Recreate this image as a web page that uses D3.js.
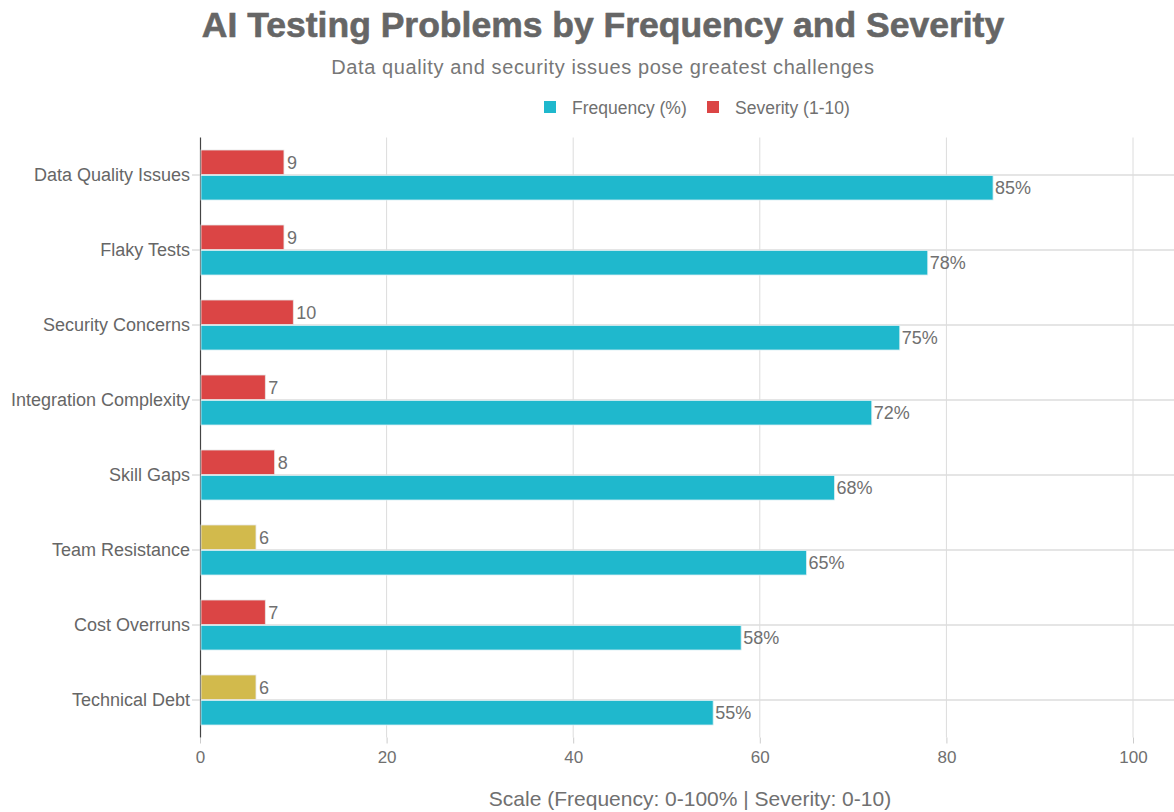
<!DOCTYPE html>
<html><head><meta charset="utf-8">
<script src="https://cdn.jsdelivr.net/npm/d3@7"></script>
<style>html,body{margin:0;padding:0;background:#fff;}svg{display:block;}</style>
</head><body>
<svg id="chart" width="1174" height="812"></svg>
<script>
const categories = ["Data Quality Issues","Flaky Tests","Security Concerns","Integration Complexity","Skill Gaps","Team Resistance","Cost Overruns","Technical Debt"];
const frequency = [85,78,75,72,68,65,58,55];
const severity = [9,9,10,7,8,6,7,6];
const xTicks = [0,20,40,60,80,100];
const seriesNames = ["Frequency (%)","Severity (1-10)"];
const colFreq = "#1FB8CD", colSevHigh = "#DB4545", colSevMed = "#D2BA4C";

const svg = d3.select("#chart");
const font = "'Liberation Sans', Arial, sans-serif";
const m = {l:200, r:1174, t:137.5, b:737.5};
const x = d3.scaleLinear().domain([0,100]).range([m.l, m.l + 933]);
const y = d3.scaleBand().domain(categories).range([m.t, m.b]);
const bw = y.bandwidth();
const inner = d3.scaleBand().domain(["sev","freq"]).range([bw/6, bw*5/6]).paddingInner(0.04);

// gridlines vertical
svg.append("g").selectAll("line").data(xTicks.slice(1)).join("line")
  .attr("x1", d=>x(d)).attr("x2", d=>x(d)).attr("y1", m.t).attr("y2", m.b)
  .attr("stroke","#dcdcdc").attr("stroke-width",1);
// horizontal gridlines at category centers
svg.append("g").selectAll("line").data(categories).join("line")
  .attr("x1", m.l).attr("x2", m.r)
  .attr("y1", d=>y(d)+bw/2).attr("y2", d=>y(d)+bw/2)
  .attr("stroke","#dcdcdc").attr("stroke-width",1.5);

// x axis
const xAxis = svg.append("g").attr("transform",`translate(0,${m.b})`)
  .call(d3.axisBottom(x).tickValues(xTicks).tickSize(6).tickPadding(7));
xAxis.select(".domain").remove();
xAxis.selectAll("line").attr("stroke","#cccccc");
xAxis.selectAll("text").attr("font-family",font).attr("font-size",17).attr("fill","#707070");

// y axis
const yAxis = svg.append("g").attr("transform",`translate(${m.l},0)`)
  .call(d3.axisLeft(y).tickSize(8).tickPadding(2));
yAxis.select(".domain").attr("stroke","#444").attr("stroke-width",1.2).attr("d",`M0.5,${m.t}V${m.b}`);
yAxis.selectAll("line").attr("stroke","#cccccc");
yAxis.selectAll("text").attr("font-family",font).attr("font-size",18).attr("fill","#666");

const rows = categories.map((c,i)=>({c, f:frequency[i], s:severity[i]}));

// severity bars
svg.append("g").selectAll("rect").data(rows).join("rect")
  .attr("x", x(0)+1).attr("y", d=>y(d.c)+inner("sev"))
  .attr("width", d=>x(d.s)-x(0)-1).attr("height", inner.bandwidth())
  .attr("fill", d=> d.s<=6 ? colSevMed : colSevHigh)
  .attr("stroke","#e6e6e6").attr("stroke-width",0.8);
// frequency bars
svg.append("g").selectAll("rect").data(rows).join("rect")
  .attr("x", x(0)+1).attr("y", d=>y(d.c)+inner("freq"))
  .attr("width", d=>x(d.f)-x(0)-1).attr("height", inner.bandwidth())
  .attr("fill", colFreq)
  .attr("stroke","#d8eef2").attr("stroke-width",0.8);

// labels
svg.append("g").selectAll("text").data(rows).join("text")
  .attr("x", d=>x(d.s)+3).attr("y", d=>y(d.c)+inner("sev")+inner.bandwidth()/2)
  .attr("dy","0.35em").attr("font-family",font).attr("font-size",18).attr("fill","#707070")
  .text(d=>d.s);
svg.append("g").selectAll("text").data(rows).join("text")
  .attr("x", d=>x(d.f)+2).attr("y", d=>y(d.c)+inner("freq")+inner.bandwidth()/2)
  .attr("dy","0.35em").attr("font-family",font).attr("font-size",18).attr("fill","#707070")
  .text(d=>d.f+"%");

// title
svg.append("text").attr("x",603).attr("y",37).attr("text-anchor","middle")
  .attr("font-family",font).attr("font-weight","bold").attr("font-size",35.5).attr("fill","#666")
  .attr("stroke","#666").attr("stroke-width",0.6)
  .text("AI Testing Problems by Frequency and Severity");
svg.append("text").attr("x",603).attr("y",74).attr("text-anchor","middle")
  .attr("font-family",font).attr("font-size",20).attr("letter-spacing",0.6).attr("fill","#777")
  .text("Data quality and security issues pose greatest challenges");

// legend
const leg = svg.append("g");
const legX = [544, 707];
const legCol = [colFreq, colSevHigh];
seriesNames.forEach((n,i)=>{
  leg.append("rect").attr("x",legX[i]).attr("y",101).attr("width",12).attr("height",12).attr("fill",legCol[i]);
  leg.append("text").attr("x",legX[i]+28).attr("y",113.5).attr("font-family",font).attr("font-size",17.5).attr("fill","#707070").text(n);
});

// axis title
svg.append("text").attr("x",690).attr("y",806).attr("text-anchor","middle")
  .attr("font-family",font).attr("font-size",21).attr("fill","#707070")
  .text("Scale (Frequency: 0-100% | Severity: 0-10)");
</script>
</body></html>
